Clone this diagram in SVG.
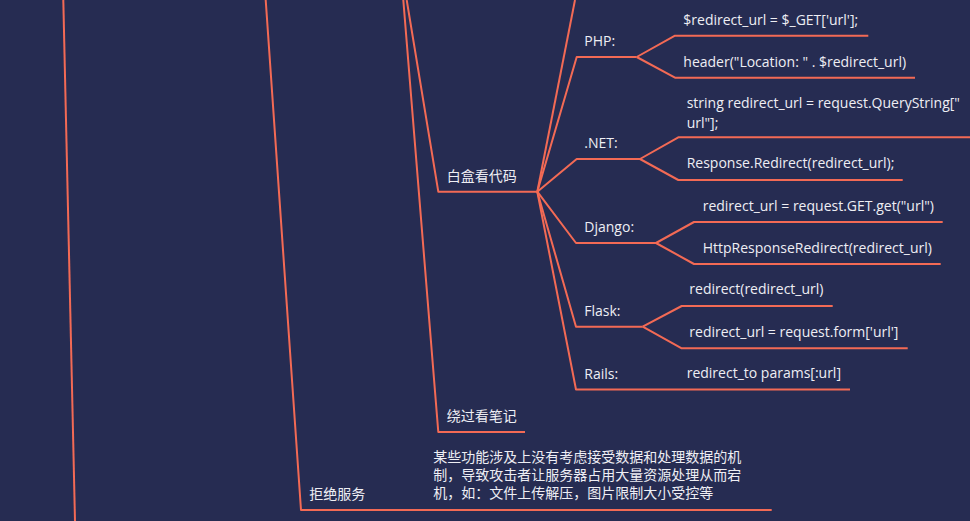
<svg xmlns="http://www.w3.org/2000/svg" width="970" height="521" viewBox="0 0 970 521">
<style>
.bg{fill:#262c52}
.c{fill:none;stroke:#f36a55;stroke-width:2;stroke-linejoin:round;stroke-linecap:butt}
text{font-family:"Open Sans","Noto Sans CJK SC",sans-serif;font-size:14px;fill:#eeeef4}
</style>
<rect class="bg" x="0" y="0" width="970" height="521"/>
<g id="connectors">
<path class="c" d="M63.3,0 L75,521"/>
<path class="c" d="M265.7,0 L301,510 L771.7,510"/>
<path class="c" d="M403.3,0 L438.3,432 L525,432"/>
<path class="c" d="M406.7,0 L438.3,191.7 L537.3,191.7"/>
<path class="c" d="M537.3,191.7 L575,0"/>
<path class="c" d="M537.3,191.7 L576.7,57 L636.7,57"/>
<path class="c" d="M537.3,191.7 L576.7,159 L640,159"/>
<path class="c" d="M537.3,191.7 L576,243 L656,243"/>
<path class="c" d="M537.3,191.7 L576,326.7 L642.7,326.7"/>
<path class="c" d="M537.3,191.7 L576,389.5 L850,389.5"/>
<path class="c" d="M636.7,57 L675,35.7 L868.3,35.7"/>
<path class="c" d="M636.7,57 L675,77.7 L915,77.7"/>
<path class="c" d="M640,159 L678.3,137.3 L970,137.3"/>
<path class="c" d="M640,159 L678.3,180 L902.7,180"/>
<path class="c" d="M656,243 L694,222 L942.7,222"/>
<path class="c" d="M656,243 L694,264 L940.7,264"/>
<path class="c" d="M642.7,326.7 L681.7,306 L832.7,306"/>
<path class="c" d="M642.7,326.7 L681.7,348.3 L907.7,348.3"/>
</g>
<g id="node-whitebox"><text x="446.7" y="181">白盒看代码</text></g>
<g id="node-bypass"><text x="446.7" y="420.7">绕过看笔记</text></g>
<g id="node-dos"><text x="309.3" y="499">拒绝服务</text></g>
<g id="node-dos-desc">
<text x="433.3" y="462.3">某些功能涉及上没有考虑接受数据和处理数据的机<tspan x="433.3" y="480.3">制，导致攻击者让服务器占用大量资源处理从而宕</tspan><tspan x="433.3" y="498.3">机，如：文件上传解压，图片限制大小受控等</tspan></text>
</g>
<g id="node-php"><text x="584.3" y="45.7">PHP:</text></g>
<g id="node-php-1"><text x="683.3" y="25">$redirect_url = $_GET['url'];</text></g>
<g id="node-php-2"><text x="683.3" y="66.7">header("Location: " . $redirect_url)</text></g>
<g id="node-net"><text x="584.3" y="148">.NET:</text></g>
<g id="node-net-1"><text x="686.7" y="108.3">string redirect_url = request.QueryString["</text><text x="686.7" y="127.5">url"];</text></g>
<g id="node-net-2"><text x="686.7" y="168.3">Response.Redirect(redirect_url);</text></g>
<g id="node-django"><text x="584.3" y="232.3">Django:</text></g>
<g id="node-django-1"><text x="702.7" y="210.7">redirect_url = request.GET.get("url")</text></g>
<g id="node-django-2"><text x="702.7" y="252.7">HttpResponseRedirect(redirect_url)</text></g>
<g id="node-flask"><text x="584.3" y="315.7">Flask:</text></g>
<g id="node-flask-1"><text x="689.3" y="294.3">redirect(redirect_url)</text></g>
<g id="node-flask-2"><text x="689.3" y="336.7">redirect_url = request.form['url']</text></g>
<g id="node-rails"><text x="584.3" y="378.7">Rails:</text></g>
<g id="node-rails-1"><text x="686.7" y="378.3">redirect_to params[:url]</text></g>
</svg>
